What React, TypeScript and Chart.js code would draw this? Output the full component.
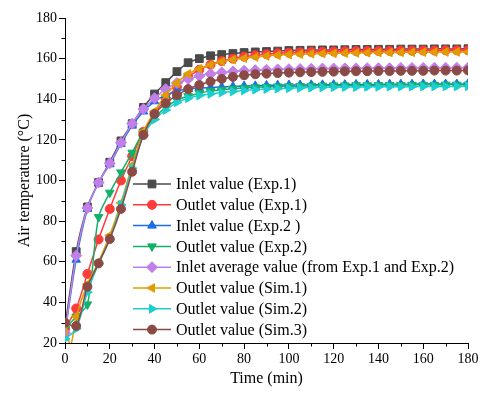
import React, { useEffect, useRef } from 'react';
import { Chart, registerables } from 'chart.js';
import { drawPoint } from 'chart.js/helpers';

Chart.register(...registerables);

const FONT = "'Liberation Serif', 'Times New Roman', serif";

const times = [0, 5, 10, 15, 20, 25, 30, 35, 40, 45, 50, 55, 60, 65, 70, 75, 80, 85, 90, 95, 100, 105, 110, 115, 120, 125, 130, 135, 140, 145, 150, 155, 160, 165, 170, 175, 180];

const inletExp1 = [28, 65, 87, 99, 109, 119.5, 128, 136, 142.6, 148.2, 153.6, 158, 160, 161.4, 162, 162.5, 163, 163.3, 163.5, 163.7, 164, 164.1, 164.2, 164.3, 164.3, 164.4, 164.5, 164.5, 164.6, 164.6, 164.7, 164.7, 164.7, 164.8, 164.8, 164.8, 164.9];
const outletExp1 = [27, 37, 54, 71, 86, 100, 112, 124, 133, 140, 146, 151, 154.5, 157, 158.8, 160, 161, 161.7, 162.2, 162.6, 162.9, 163.1, 163.3, 163.4, 163.5, 163.6, 163.7, 163.7, 163.8, 163.8, 163.9, 163.9, 164, 164, 164.1, 164.1, 164.1];
const inletExp2 = [25, 61, 86, 99, 108, 118, 127, 134, 139, 142, 144, 145, 145.5, 145.8, 146, 146.3, 146.5, 146.6, 146.8, 146.9, 147, 147, 147.1, 147.1, 147.2, 147.2, 147.3, 147.3, 147.3, 147.4, 147.4, 147.4, 147.5, 147.5, 147.5, 147.5, 147.6];
const outletExp2 = [27, 33, 39, 82, 94, 104, 113.7, 124, 131, 136, 139.5, 141.5, 143, 144, 144.7, 145.2, 145.6, 145.9, 146.1, 146.3, 146.4, 146.5, 146.6, 146.7, 146.8, 146.8, 146.9, 146.9, 147, 147, 147, 147.1, 147.1, 147.1, 147.2, 147.2, 147.2];
const inletAverage = [25, 63, 86.5, 99, 108.5, 118.6, 128, 135.2, 140.5, 145, 148, 150, 151.5, 152.5, 153.2, 153.7, 154, 154.3, 154.5, 154.7, 154.8, 154.9, 155, 155.1, 155.1, 155.2, 155.2, 155.3, 155.3, 155.3, 155.4, 155.4, 155.4, 155.5, 155.5, 155.5, 155.5];
const outletSim1 = [30, 33, 49, 60, 73, 89, 107.5, 124, 134, 142, 148, 152.5, 155, 157, 158.5, 159.5, 160.2, 160.8, 161.3, 161.7, 162, 162.2, 162.4, 162.5, 162.6, 162.7, 162.8, 162.9, 163, 163, 163.1, 163.1, 163.2, 163.2, 163.3, 163.3, 163.3];
const outletSim2 = [22, 27, 45, 59, 71, 88, 106, 122, 130, 134.7, 138.5, 140.5, 141.8, 142.6, 143.3, 143.8, 144.3, 144.7, 145, 145.2, 145.4, 145.6, 145.7, 145.8, 145.9, 146, 146, 146.1, 146.1, 146.2, 146.2, 146.2, 146.3, 146.3, 146.3, 146.3, 146.4];
const outletSim3 = [30, 28.4, 47.7, 59.2, 71.2, 86, 104.3, 122.4, 132.7, 138, 142, 145, 147, 148.7, 150, 151, 151.8, 152.3, 152.6, 152.9, 153.1, 153.3, 153.4, 153.5, 153.6, 153.7, 153.8, 153.8, 153.9, 153.9, 154, 154, 154, 154.1, 154.1, 154.1, 154.2];
// extra un-marked point of the Sim.1 curve (initial dip)
const sim1DipTime = 2.5;
const sim1DipValue = 19;

const seriesLabels = [
  'Inlet value (Exp.1)',
  'Outlet value (Exp.1)',
  'Inlet value (Exp.2 )',
  'Outlet value (Exp.2)',
  'Inlet average value (from Exp.1 and Exp.2)',
  'Outlet value (Sim.1)',
  'Outlet value (Sim.2)',
  'Outlet value (Sim.3)',
];
const seriesValues = [inletExp1, outletExp1, inletExp2, outletExp2, inletAverage, outletSim1, outletSim2, outletSim3];
const colors = ['#4a4a4a', '#ff3a3a', '#1a6ee6', '#14b06a', '#c27fe8', '#e09c00', '#1ccfcf', '#8b4a45'];
const styles: { s: string; r: number; rot: number }[] = [
  { s: 'rect', r: 5.5, rot: 0 },
  { s: 'circle', r: 4.5, rot: 0 },
  { s: 'triangle', r: 5, rot: 0 },
  { s: 'triangle', r: 5, rot: 180 },
  { s: 'rectRot', r: 5.5, rot: 0 },
  { s: 'triangle', r: 5, rot: -90 },
  { s: 'triangle', r: 5, rot: 90 },
  { s: 'circle', r: 4.5, rot: 0 },
];

const legendPlugin = {
  id: 'innerLegend',
  afterDraw(chart: any) {
    const ctx = chart.ctx;
    const area = chart.chartArea;
    const x0 = area.left + 68;
    const y0 = area.top + 166;
    const step = 20.8;
    ctx.save();
    seriesLabels.forEach((label, i) => {
      const y = y0 + i * step;
      ctx.strokeStyle = colors[i];
      ctx.lineWidth = 1.5;
      ctx.beginPath();
      ctx.moveTo(x0, y);
      ctx.lineTo(x0 + 38, y);
      ctx.stroke();
      ctx.fillStyle = colors[i];
      ctx.lineWidth = 1;
      drawPoint(ctx, { pointStyle: styles[i].s as any, radius: styles[i].r, rotation: styles[i].rot, borderWidth: 1 } as any, x0 + 19, y);
      ctx.fillStyle = '#000';
      ctx.font = `16px ${FONT}`;
      ctx.textBaseline = 'middle';
      ctx.textAlign = 'left';
      ctx.fillText(label, x0 + 43, y + 1);
    });
    ctx.restore();
  },
};

const minorTicksPlugin = {
  id: 'minorTicks',
  afterDraw(chart: any) {
    const ctx = chart.ctx;
    const xs = chart.scales.x;
    const ys = chart.scales.y;
    const area = chart.chartArea;
    ctx.save();
    ctx.strokeStyle = '#000';
    ctx.lineWidth = 1;
    ctx.beginPath();
    for (let v = 10; v < 180; v += 20) {
      const px = Math.round(xs.getPixelForValue(v)) + 0.5;
      ctx.moveTo(px, area.bottom);
      ctx.lineTo(px, area.bottom + 3.5);
    }
    for (let v = 30; v < 180; v += 20) {
      const py = Math.round(ys.getPixelForValue(v)) + 0.5;
      ctx.moveTo(area.left, py);
      ctx.lineTo(area.left - 3.5, py);
    }
    ctx.stroke();
    ctx.restore();
  },
};

export default function App() {
  const ref = useRef<HTMLCanvasElement | null>(null);
  useEffect(() => {
    document.body.style.margin = '0';
    if (!ref.current) return;
    const datasets = seriesValues.map((vals, i) => {
      const pts: any[] = times.map((t, k) => ({ x: t, y: vals[k], m: true }));
      if (i === 5) pts.splice(1, 0, { x: sim1DipTime, y: sim1DipValue, m: false });
      return {
        label: seriesLabels[i],
        data: pts,
        borderColor: colors[i],
        backgroundColor: colors[i],
        borderWidth: 1.5,
        pointStyle: styles[i].s,
        pointRotation: styles[i].rot,
        pointRadius: (c: any) => (c.raw && c.raw.m === false ? 0 : styles[i].r),
        pointBorderWidth: 1,
        pointBorderColor: colors[i],
        pointBackgroundColor: colors[i],
        tension: 0.3,
        order: 7 - i,
      };
    });
    const tickFont = { family: FONT, size: 14 };
    const chart = new Chart(ref.current, {
      type: 'line',
      data: { datasets } as any,
      plugins: [legendPlugin, minorTicksPlugin],
      options: {
        animation: false,
        responsive: false,
        maintainAspectRatio: false,
        layout: { padding: { top: 18, right: 21, left: 0, bottom: 0 } },
        plugins: { legend: { display: false }, tooltip: { enabled: false } },
        scales: {
          x: {
            type: 'linear',
            min: 0,
            max: 180,
            ticks: { stepSize: 20, font: tickFont, color: '#000', padding: 2, maxRotation: 0 },
            grid: { drawOnChartArea: false, tickLength: 6, color: '#000' },
            border: { color: '#000', width: 1 },
            title: { display: true, text: 'Time (min)', font: { family: FONT, size: 16 }, color: '#000', padding: { top: 6, bottom: 6 } },
            afterFit: (s: any) => { s.height = 51; },
          },
          y: {
            type: 'linear',
            min: 20,
            max: 180,
            ticks: { stepSize: 20, font: tickFont, color: '#000', padding: 2 },
            grid: { drawOnChartArea: false, tickLength: 6, color: '#000' },
            border: { color: '#000', width: 1 },
            title: { display: true, text: 'Air temperature (°C)', font: { family: FONT, size: 16 }, color: '#000', padding: { top: 15, bottom: 15 } },
            afterFit: (s: any) => { s.width = 65; },
          },
        },
      } as any,
    });
    return () => chart.destroy();
  }, []);
  return (
    <div style={{ width: 489, height: 394 }}>
      <canvas ref={ref} width={489} height={394} style={{ display: 'block' }} />
    </div>
  );
}
